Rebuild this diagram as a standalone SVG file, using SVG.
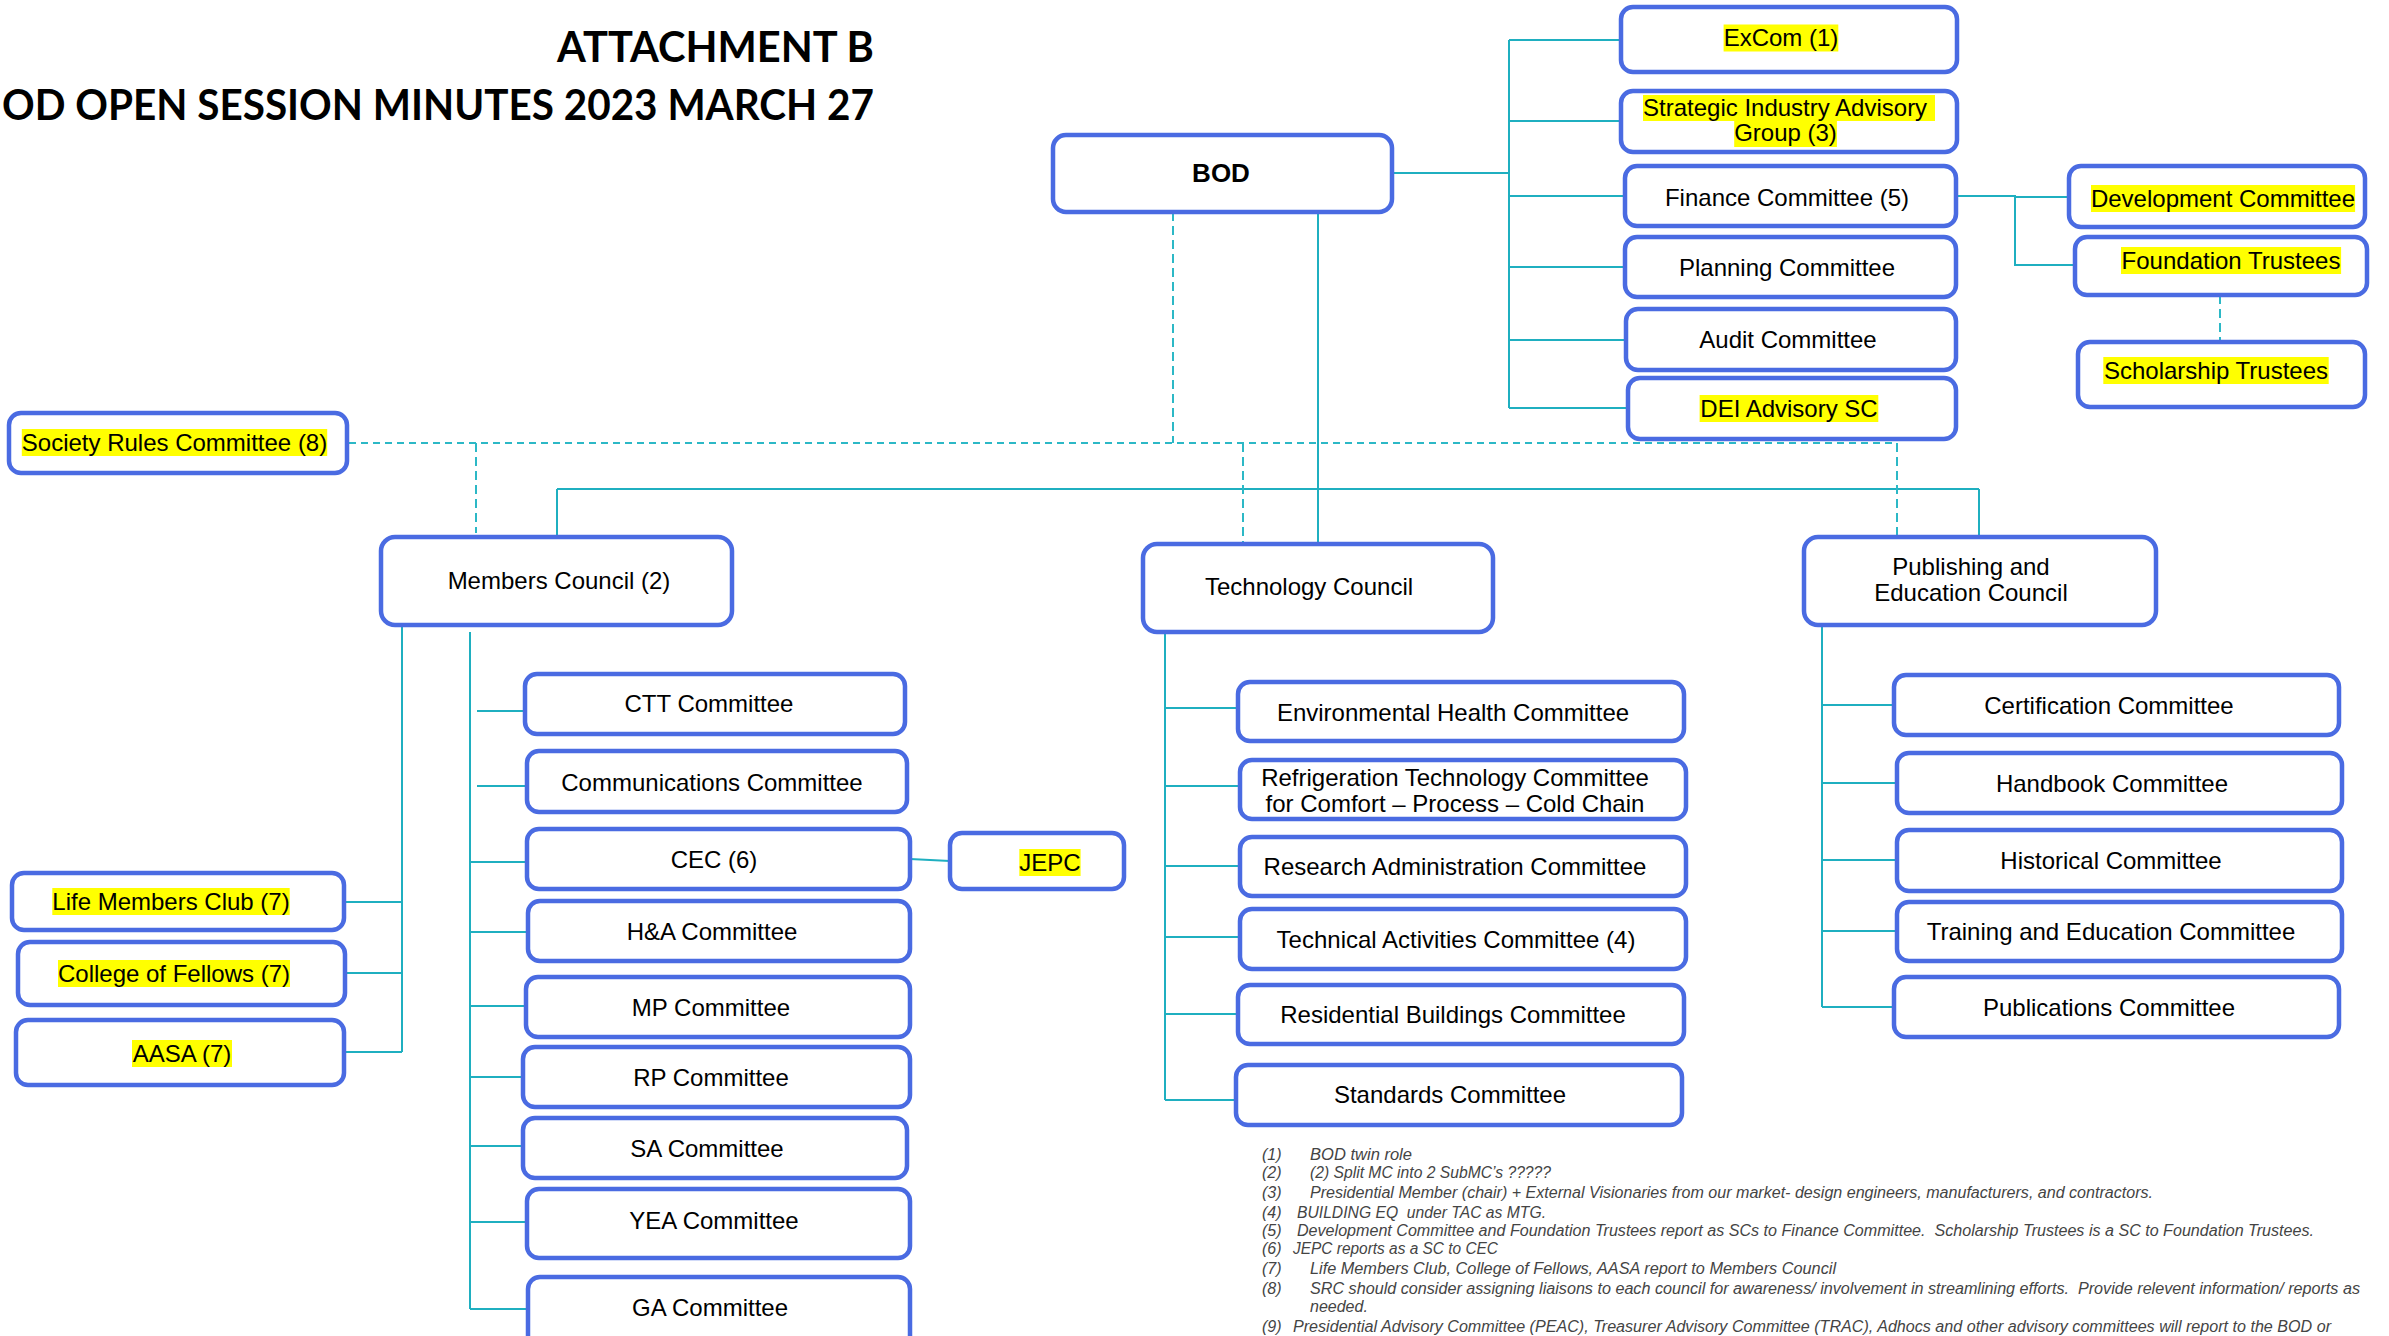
<svg xmlns="http://www.w3.org/2000/svg" width="2389" height="1336" viewBox="0 0 2389 1336">
<style>
.bg{fill:#fff}
.box{fill:#fff;stroke:#4A6BE2;stroke-width:4.5}
.t{font-family:"Liberation Sans",Arial,sans-serif;font-size:24px;fill:#000;text-anchor:middle}
.ts{font-family:"Liberation Sans",Arial,sans-serif;font-size:24px;fill:#000}
.b{font-weight:bold;font-size:26px}
.hl{fill:#FFFF00}
.c{stroke:#1FAFC0;stroke-width:2;fill:none}
.d{stroke:#2CB8C6;stroke-width:2;fill:none;stroke-dasharray:7 5}
.dv{stroke:#2CB8C6;stroke-width:2;fill:none;stroke-dasharray:9 5}
.title{font-family:Lato,"Liberation Sans",sans-serif;font-weight:bold;font-size:42px;fill:#000}
.fn{font-family:"Liberation Sans Narrow","Liberation Sans",Arial,sans-serif;font-style:italic;font-size:16px;fill:#444}
</style>
<rect class="bg" x="0" y="0" width="2389" height="1336"/>

<g id="title">
<text class="title" x="557" y="62" textLength="317" lengthAdjust="spacingAndGlyphs">ATTACHMENT B</text>
<text class="title" x="2" y="120" textLength="872" lengthAdjust="spacingAndGlyphs">OD OPEN SESSION MINUTES 2023 MARCH 27</text>
</g>

<g id="connectors">
<!-- BOD to right committees -->
<path class="c" d="M1392 173 H1509 M1509 40 V408 M1509 40 H1621 M1509 121 H1621 M1509 196 H1625 M1509 267 H1625 M1509 340 H1626 M1509 408 H1628"/>
<!-- Finance to Development / Foundation -->
<path class="c" d="M1956 196 H2015 V265 H2075 M2015 197 H2069"/>
<path class="dv" d="M2220 295 V340"/>
<!-- BOD to councils -->
<path class="c" d="M1318 212 V544 M557 489 H1979 M557 489 V537 M1979 489 V537"/>
<path class="d" d="M349 443 H1897"/>
<path class="dv" d="M1173 212 V443 M476 443 V533 M1243 443 V544 M1897 443 V537"/>
<!-- Members Council -->
<path class="c" d="M402 620 V1052 M344 902 H402 M345 973 H402 M344 1052 H402"/>
<path class="c" d="M470 632 V1309 M477 711 H525 M477 786 H527 M470 862 H527 M470 932 H528 M470 1006 H526 M470 1077 H523 M470 1146 H523 M470 1222 H527 M470 1309 H528"/>
<path class="c" d="M910 859 L950 861"/>
<!-- Technology Council -->
<path class="c" d="M1165 632 V1100 M1165 708 H1238 M1165 786 H1240 M1165 866 H1240 M1165 937 H1240 M1165 1014 H1238 M1165 1100 H1236"/>
<!-- Publishing and Education Council -->
<path class="c" d="M1822 625 V1007 M1822 705 H1894 M1822 783 H1897 M1822 860 H1897 M1822 931 H1897 M1822 1007 H1894"/>
</g>

<g id="bod"><rect class="box" x="1053" y="135" width="339" height="77" rx="13"/><text class="t b" x="1221" y="182">BOD</text></g>

<g id="excom"><rect class="box" x="1621" y="7" width="336" height="65" rx="12"/><rect class="hl" x="1723.6" y="24.5" width="114.7" height="27"/><text class="t" x="1781" y="46">ExCom (1)</text></g>
<g id="siag"><rect class="box" x="1621" y="91" width="336" height="61" rx="12"/><rect class="hl" x="1643" y="95" width="292" height="26"/><rect class="hl" x="1734.2" y="121" width="102.7" height="26"/><text class="ts" x="1643" y="116">Strategic Industry Advisory</text><text class="t" x="1785.5" y="141">Group (3)</text></g>
<g id="finance"><rect class="box" x="1625" y="166" width="331" height="60" rx="12"/><text class="t" x="1787" y="205.5">Finance Committee (5)</text></g>
<g id="planning"><rect class="box" x="1625" y="237" width="331" height="60" rx="12"/><text class="t" x="1787" y="275.5">Planning Committee</text></g>
<g id="audit"><rect class="box" x="1626" y="309" width="330" height="61" rx="12"/><text class="t" x="1788" y="347.5">Audit Committee</text></g>
<g id="dei"><rect class="box" x="1628" y="378" width="328" height="61" rx="12"/><rect class="hl" x="1699.6" y="395" width="178.7" height="27"/><text class="t" x="1789" y="416.5">DEI Advisory SC</text></g>
<g id="development"><rect class="box" x="2069" y="166" width="296" height="61" rx="12"/><rect class="hl" x="2091" y="185" width="264.1" height="27"/><text class="t" x="2223" y="206.5">Development Committee</text></g>
<g id="foundation"><rect class="box" x="2075" y="237" width="292" height="58" rx="12"/><rect class="hl" x="2121" y="247" width="220.1" height="27"/><text class="t" x="2231" y="268.5">Foundation Trustees</text></g>
<g id="scholarship"><rect class="box" x="2078" y="342" width="287" height="65" rx="12"/><rect class="hl" x="2103.3" y="357" width="225.4" height="27"/><text class="t" x="2216" y="378.5">Scholarship Trustees</text></g>

<g id="src"><rect class="box" x="9" y="413" width="338" height="60" rx="12"/><rect class="hl" x="21.8" y="429" width="305.4" height="27"/><text class="t" x="174.5" y="450.5">Society Rules Committee (8)</text></g>

<g id="members-council"><rect class="box" x="381" y="537" width="351" height="88" rx="14"/><text class="t" x="559" y="588.5">Members Council (2)</text></g>
<g id="technology-council"><rect class="box" x="1143" y="544" width="350" height="88" rx="14"/><text class="t" x="1309" y="594.5">Technology Council</text></g>
<g id="pe-council"><rect class="box" x="1804" y="537" width="352" height="88" rx="14"/><text class="t" x="1971" y="574.5">Publishing and</text><text class="t" x="1971" y="600.5">Education Council</text></g>

<g id="ctt"><rect class="box" x="525" y="674" width="380" height="60" rx="12"/><text class="t" x="709" y="711.5">CTT Committee</text></g>
<g id="communications"><rect class="box" x="527" y="751" width="380" height="61" rx="12"/><text class="t" x="712" y="790.5">Communications Committee</text></g>
<g id="cec"><rect class="box" x="527" y="829" width="383" height="60" rx="12"/><text class="t" x="714" y="867.5">CEC (6)</text></g>
<g id="jepc"><rect class="box" x="950" y="833" width="174" height="56" rx="12"/><rect class="hl" x="1019.3" y="849" width="61.3" height="27"/><text class="t" x="1050" y="870.5">JEPC</text></g>
<g id="ha"><rect class="box" x="528" y="901" width="382" height="60" rx="12"/><text class="t" x="712" y="939.5">H&amp;A Committee</text></g>
<g id="mp"><rect class="box" x="526" y="977" width="384" height="60" rx="12"/><text class="t" x="711" y="1015.5">MP Committee</text></g>
<g id="rp"><rect class="box" x="523" y="1047" width="387" height="60" rx="12"/><text class="t" x="711" y="1085.5">RP Committee</text></g>
<g id="sa"><rect class="box" x="523" y="1118" width="384" height="60" rx="12"/><text class="t" x="707" y="1156.5">SA Committee</text></g>
<g id="yea"><rect class="box" x="527" y="1189" width="383" height="69" rx="12"/><text class="t" x="714" y="1228.5">YEA Committee</text></g>
<g id="ga"><rect class="box" x="528" y="1277" width="382" height="80" rx="12"/><text class="t" x="710" y="1315.5">GA Committee</text></g>

<g id="life-members"><rect class="box" x="12" y="873" width="332" height="57" rx="12"/><rect class="hl" x="52.3" y="888" width="237.4" height="27"/><text class="t" x="171" y="909.5">Life Members Club (7)</text></g>
<g id="college-fellows"><rect class="box" x="18" y="942" width="327" height="63" rx="12"/><rect class="hl" x="58" y="960" width="232" height="27"/><text class="t" x="174" y="981.5">College of Fellows (7)</text></g>
<g id="aasa"><rect class="box" x="16" y="1020" width="328" height="65" rx="12"/><rect class="hl" x="132" y="1040" width="100" height="27"/><text class="t" x="182" y="1061.5">AASA (7)</text></g>

<g id="env-health"><rect class="box" x="1238" y="682" width="446" height="59" rx="12"/><text class="t" x="1453" y="720.5">Environmental Health Committee</text></g>
<g id="refrigeration"><rect class="box" x="1240" y="760" width="446" height="59" rx="12"/><text class="t" x="1455" y="785.5">Refrigeration Technology Committee</text><text class="t" x="1455" y="811.5">for Comfort – Process – Cold Chain</text></g>
<g id="research"><rect class="box" x="1240" y="837" width="446" height="59" rx="12"/><text class="t" x="1455" y="874.5">Research Administration Committee</text></g>
<g id="tac"><rect class="box" x="1240" y="909" width="446" height="60" rx="12"/><text class="t" x="1456" y="947.5">Technical Activities Committee (4)</text></g>
<g id="residential"><rect class="box" x="1238" y="985" width="446" height="59" rx="12"/><text class="t" x="1453" y="1022.5">Residential Buildings Committee</text></g>
<g id="standards"><rect class="box" x="1236" y="1065" width="446" height="60" rx="12"/><text class="t" x="1450" y="1102.5">Standards Committee</text></g>

<g id="certification"><rect class="box" x="1894" y="675" width="445" height="60" rx="12"/><text class="t" x="2109" y="713.5">Certification Committee</text></g>
<g id="handbook"><rect class="box" x="1897" y="753" width="445" height="60" rx="12"/><text class="t" x="2112" y="791.5">Handbook Committee</text></g>
<g id="historical"><rect class="box" x="1897" y="830" width="445" height="61" rx="12"/><text class="t" x="2111" y="868.5">Historical Committee</text></g>
<g id="training"><rect class="box" x="1897" y="902" width="445" height="59" rx="12"/><text class="t" x="2111" y="939.5">Training and Education Committee</text></g>
<g id="publications"><rect class="box" x="1894" y="977" width="445" height="60" rx="12"/><text class="t" x="2109" y="1015.5">Publications Committee</text></g>

<g id="footnotes">
<text class="fn" x="1262" y="1160">(1)</text><text class="fn" x="1310" y="1160" textLength="102" lengthAdjust="spacingAndGlyphs">BOD twin role</text>
<text class="fn" x="1262" y="1178">(2)</text><text class="fn" x="1310" y="1178" textLength="241" lengthAdjust="spacingAndGlyphs">(2) Split MC into 2 SubMC’s ?????</text>
<text class="fn" x="1262" y="1198">(3)</text><text class="fn" x="1310" y="1198" textLength="843" lengthAdjust="spacingAndGlyphs">Presidential Member (chair) + External Visionaries from our market- design engineers, manufacturers, and contractors.</text>
<text class="fn" x="1262" y="1218">(4)</text><text class="fn" x="1297" y="1218" textLength="249" lengthAdjust="spacingAndGlyphs">BUILDING EQ &#160;under TAC as MTG.</text>
<text class="fn" x="1262" y="1236">(5)</text><text class="fn" x="1297" y="1236" textLength="1017" lengthAdjust="spacingAndGlyphs">Development Committee and Foundation Trustees report as SCs to Finance Committee. &#160;Scholarship Trustees is a SC to Foundation Trustees.</text>
<text class="fn" x="1262" y="1254">(6)</text><text class="fn" x="1293" y="1254" textLength="205" lengthAdjust="spacingAndGlyphs">JEPC reports as a SC to CEC</text>
<text class="fn" x="1262" y="1274">(7)</text><text class="fn" x="1310" y="1274" textLength="526" lengthAdjust="spacingAndGlyphs">Life Members Club, College of Fellows, AASA report to Members Council</text>
<text class="fn" x="1262" y="1294">(8)</text><text class="fn" x="1310" y="1294" textLength="1050" lengthAdjust="spacingAndGlyphs">SRC should consider assigning liaisons to each council for awareness/ involvement in streamlining efforts. &#160;Provide relevent information/ reports as</text>
<text class="fn" x="1310" y="1312">needed.</text>
<text class="fn" x="1262" y="1332">(9)</text><text class="fn" x="1293" y="1332" textLength="1038" lengthAdjust="spacingAndGlyphs">Presidential Advisory Committee (PEAC), Treasurer Advisory Committee (TRAC), Adhocs and other advisory committees will report to the BOD or</text>
</g>
</svg>
